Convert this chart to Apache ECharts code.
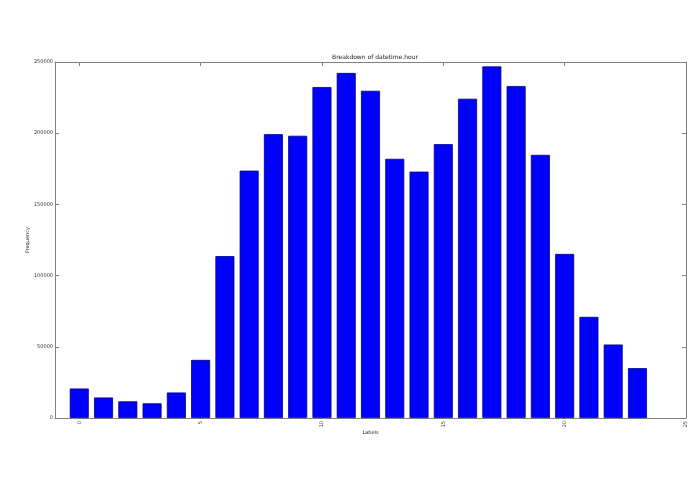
<!DOCTYPE html>
<html>
<head>
<meta charset="utf-8">
<script src="https://cdn.jsdelivr.net/npm/echarts@6/dist/echarts.min.js"></script>
<style>html,body{margin:0;padding:0;background:#fff;}#c{width:695px;height:494px;}</style>
</head>
<body>
<div id="c"></div>
<script>
const hours = [0,1,2,3,4,5,6,7,8,9,10,11,12,13,14,15,16,17,18,19,20,21,22,23];
const counts = [20700,14400,11700,10300,17900,40800,113700,173700,199300,198200,232400,242300,229800,182000,173000,192300,224200,246900,233100,184800,115200,71000,51600,35000];
const xTicks = [0,5,10,15,20,25];
const yTicks = [0,50000,100000,150000,200000,250000];
const titleText = 'Breakdown of datetime.hour';
const xName = 'Labels';
const yName = 'Frequency';

const chart = echarts.init(document.getElementById('c'), null, {renderer:'canvas'});
const axisCol = '#808080';
const font = 'DejaVu Sans';
chart.setOption({
  animation:false,
  backgroundColor:'#fff',
  title:{text:titleText,left:370,textAlign:'center',top:49,textStyle:{fontFamily:font,fontSize:6,fontWeight:'normal',color:'#222'}},
  grid:{left:55,right:9,top:62,bottom:76,containLabel:false,outerBoundsMode:'none'},
  xAxis:[{
    type:'value',min:-1,max:25,position:'bottom',
    name:xName,nameLocation:'middle',nameGap:12,nameMoveOverlap:false,nameTextStyle:{fontFamily:font,fontSize:5,color:'#222'},
    axisLine:{show:true,onZero:false,lineStyle:{color:axisCol,width:1}},
    axisTick:{show:true,inside:true,length:4,customValues:xTicks,lineStyle:{color:axisCol}},
    axisLabel:{show:true,customValues:xTicks,rotate:90,fontFamily:font,fontSize:5,color:'#333',margin:3},
    splitLine:{show:false}
  },{
    type:'value',min:-1,max:25,position:'top',
    axisLine:{show:true,onZero:false,lineStyle:{color:axisCol,width:1}},
    axisTick:{show:true,inside:true,length:4,customValues:xTicks,lineStyle:{color:axisCol}},
    axisLabel:{show:false},splitLine:{show:false}
  }],
  yAxis:[{
    type:'value',min:0,max:250000,interval:50000,position:'left',
    name:yName,nameLocation:'middle',nameGap:25,nameMoveOverlap:false,nameRotate:90,nameTextStyle:{fontFamily:font,fontSize:5,color:'#222'},
    axisLine:{show:true,onZero:false,lineStyle:{color:axisCol,width:1}},
    axisTick:{show:true,inside:true,length:4,lineStyle:{color:axisCol}},
    axisLabel:{show:true,fontFamily:font,fontSize:5,color:'#333',margin:2,formatter:v=>String(v)},
    splitLine:{show:false}
  },{
    type:'value',min:0,max:250000,interval:50000,position:'right',
    axisLine:{show:true,onZero:false,lineStyle:{color:axisCol,width:1}},
    axisTick:{show:true,inside:true,length:4,lineStyle:{color:axisCol}},
    axisLabel:{show:false},splitLine:{show:false}
  }],
  series:[{
    type:'bar',xAxisIndex:0,yAxisIndex:0,
    data:hours.map((h,i)=>[h,counts[i]]),
    barWidth:19,
    itemStyle:{color:'#0000ff',borderColor:'#000080',borderWidth:0.8}
  }]
});
</script>
</body>
</html>
